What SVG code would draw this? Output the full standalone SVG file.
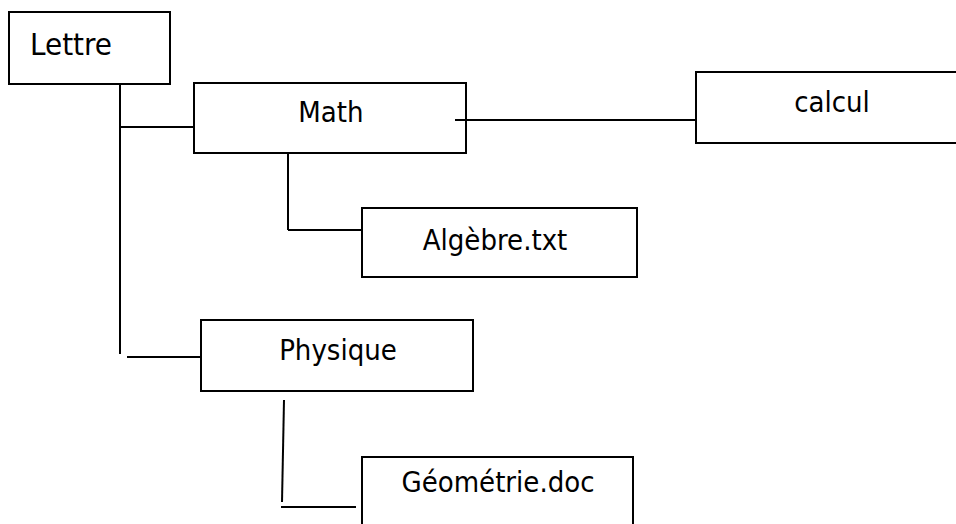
<svg xmlns="http://www.w3.org/2000/svg" width="956" height="524" viewBox="0 0 956 524">
<style>
.box{fill:#fff;stroke:#000;stroke-width:2}
.lbl{font-family:"DejaVu Sans Condensed","DejaVu Sans",sans-serif;font-size:29px;fill:#000;text-anchor:middle}
.c{fill:none;stroke:#000;stroke-width:2}
</style>
<rect width="956" height="524" fill="#fff"/>
<g id="lettre">
<rect class="box" x="9" y="12" width="161" height="72"/>
<text class="lbl" x="30" y="55" style="text-anchor:start;font-size:31px">Lettre</text>
</g>
<g id="math">
<rect class="box" x="194" y="83" width="272" height="70"/>
<text class="lbl" x="331" y="122">Math</text>
</g>
<g id="calcul">
<rect class="box" x="696" y="72" width="262" height="71"/>
<text class="lbl" x="832" y="112">calcul</text>
</g>
<g id="algebre">
<rect class="box" x="362" y="208" width="275" height="69"/>
<text class="lbl" x="495" y="250">Algèbre.txt</text>
</g>
<g id="physique">
<rect class="box" x="201" y="320" width="272" height="71"/>
<text class="lbl" x="338" y="360">Physique</text>
</g>
<g id="geometrie">
<rect class="box" x="362" y="457" width="271" height="80"/>
<text class="lbl" x="498" y="492">Géométrie.doc</text>
</g>
<g id="connectors">
<line class="c" x1="120" y1="84" x2="120" y2="354"/>
<line class="c" x1="120" y1="127" x2="194" y2="127"/>
<line class="c" x1="455" y1="120" x2="696" y2="120"/>
<line class="c" x1="288" y1="153" x2="288" y2="230"/>
<line class="c" x1="288" y1="230" x2="362" y2="230"/>
<line class="c" x1="127" y1="357" x2="201" y2="357"/>
<line class="c" x1="284" y1="400" x2="282" y2="502"/>
<line class="c" x1="281" y1="507" x2="356" y2="507"/>
</g>
</svg>
